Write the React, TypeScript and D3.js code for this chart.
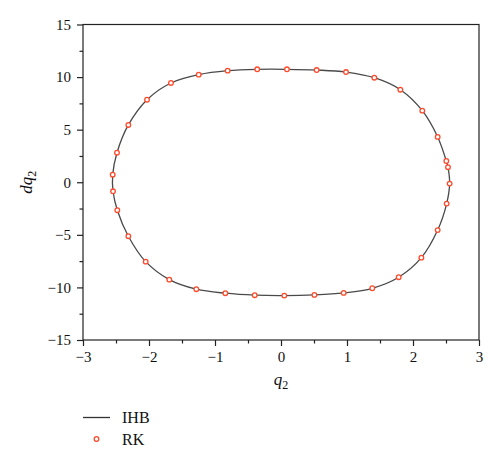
import React, { useRef, useEffect } from 'react';
import * as d3 from 'd3';

// RK samples around the orbit (q2, dq2)
const rkQ = [
  -0.36, 0.09, 0.54, 0.985, 1.414, 1.808, 2.141, 2.374, 2.505, 2.53, 2.555, 2.51, 2.374,
  2.127, 1.783, 1.383, 0.95, 0.506, 0.05, -0.398, -0.843, -1.283, -1.692, -2.05, -2.313,
  -2.48, -2.545, -2.55, -2.485, -2.313, -2.03, -1.667, -1.247, -0.808,
];
const rkDq = [
  10.74, 10.74, 10.67, 10.48, 9.94, 8.8, 6.81, 4.31, 2.02, 1.43, -0.13, -2.03, -4.55,
  -7.17, -9.03, -10.08, -10.52, -10.71, -10.78, -10.74, -10.55, -10.17, -9.26, -7.55, -5.13,
  -2.66, -0.86, 0.72, 2.81, 5.45, 7.85, 9.44, 10.23, 10.61,
];

// IHB orbit points (closed curve)
const ihbQ = rkQ;
const ihbDq = rkDq;

const xTicks = [-3, -2, -1, 0, 1, 2, 3];
const yTicks = [-15, -10, -5, 0, 5, 10, 15];

const W = 500;
const H = 461;
const margin = { left: 83, right: 21, top: 24.5, bottom: 121 };
const font = '"Liberation Serif", "Times New Roman", serif';
const red = '#ff4a2a';

const App: React.FC = () => {
  const svgRef = useRef<SVGSVGElement>(null);

  useEffect(() => {
    if (!svgRef.current) return;
    const svg = d3.select(svgRef.current);
    svg.selectAll('*').remove();

    const x = d3.scaleLinear().domain([-3, 3]).range([margin.left, W - margin.right]);
    const y = d3.scaleLinear().domain([-15, 15]).range([H - margin.bottom, margin.top]);

    // frame
    svg.append('rect')
      .attr('x', x(-3)).attr('y', y(15))
      .attr('width', x(3) - x(-3)).attr('height', y(-15) - y(15))
      .attr('fill', 'none').attr('stroke', '#222').attr('stroke-width', 1.2);

    const fmt = (d: d3.NumberValue) => (+d < 0 ? '\u2212' + Math.abs(+d) : String(d));

    // x axis
    const gx = svg.append('g').attr('transform', `translate(0,${y(-15)})`)
      .call(d3.axisBottom(x).tickValues(xTicks).tickFormat(fmt).tickSize(6).tickPadding(5));
    gx.select('.domain').remove();
    gx.selectAll('line').attr('stroke', '#222').attr('stroke-width', 1.2);
    gx.selectAll('text').attr('font-family', font).attr('font-size', 15).attr('fill', '#111');
    const gxm = svg.append('g').attr('transform', `translate(0,${y(-15)})`)
      .call(d3.axisBottom(x).tickValues(d3.range(-2.5, 3, 1)).tickSize(3.5).tickFormat(() => ''));
    gxm.select('.domain').remove();
    gxm.selectAll('line').attr('stroke', '#222').attr('stroke-width', 1.2);

    // y axis
    const gy = svg.append('g').attr('transform', `translate(${x(-3)},0)`)
      .call(d3.axisLeft(y).tickValues(yTicks).tickFormat(fmt).tickSize(6).tickPadding(6));
    gy.select('.domain').remove();
    gy.selectAll('line').attr('stroke', '#222').attr('stroke-width', 1.2);
    gy.selectAll('text').attr('font-family', font).attr('font-size', 15).attr('fill', '#111');
    const gym = svg.append('g').attr('transform', `translate(${x(-3)},0)`)
      .call(d3.axisLeft(y).tickValues(d3.range(-12.5, 15, 5)).tickSize(3.5).tickFormat(() => ''));
    gym.select('.domain').remove();
    gym.selectAll('line').attr('stroke', '#222').attr('stroke-width', 1.2);

    // axis titles
    const xt = svg.append('text').attr('x', x(0)).attr('y', y(-15) + 45)
      .attr('text-anchor', 'middle').attr('font-family', font).attr('font-size', 17)
      .attr('font-style', 'italic').attr('fill', '#111');
    xt.append('tspan').text('q');
    xt.append('tspan').text('2').attr('font-size', 12).attr('dy', 4).attr('font-style', 'normal');

    const yt = svg.append('text')
      .attr('transform', `translate(32,${y(0)}) rotate(-90)`)
      .attr('text-anchor', 'middle').attr('font-family', font).attr('font-size', 17)
      .attr('font-style', 'italic').attr('fill', '#111');
    yt.append('tspan').text('dq');
    yt.append('tspan').text('2').attr('font-size', 12).attr('dy', 4).attr('font-style', 'normal');

    // IHB line
    const pts = ihbQ.map((q, i) => [q, ihbDq[i]] as [number, number]);
    const line = d3.line<[number, number]>()
      .x(d => x(d[0])).y(d => y(d[1]))
      .curve(d3.curveCatmullRomClosed.alpha(0.5));
    svg.append('path').attr('d', line(pts)).attr('fill', 'none')
      .attr('stroke', '#4a4a4a').attr('stroke-width', 1.3);

    // RK markers
    svg.append('g').selectAll('circle')
      .data(rkQ.map((q, i) => [q, rkDq[i]]))
      .join('circle')
      .attr('cx', d => x(d[0])).attr('cy', d => y(d[1])).attr('r', 2.3)
      .attr('fill', '#fff').attr('stroke', red).attr('stroke-width', 1.3);

    // legend
    const lg = svg.append('g');
    lg.append('line').attr('x1', 83).attr('x2', 110).attr('y1', 417.5).attr('y2', 417.5)
      .attr('stroke', '#333').attr('stroke-width', 1.3);
    lg.append('text').attr('x', 122).attr('y', 422.5).text('IHB')
      .attr('font-family', font).attr('font-size', 16).attr('fill', '#111');
    lg.append('circle').attr('cx', 96.5).attr('cy', 439).attr('r', 2.3)
      .attr('fill', '#fff').attr('stroke', red).attr('stroke-width', 1.3);
    lg.append('text').attr('x', 122).attr('y', 444.5).text('RK')
      .attr('font-family', font).attr('font-size', 16).attr('fill', '#111');
  }, []);

  return (
    <div style={{ position: 'absolute', left: 0, top: 0, width: W, height: H, background: '#fff' }}>
      <svg ref={svgRef} width={W} height={H} style={{ display: 'block' }} />
    </div>
  );
};

export default App;
